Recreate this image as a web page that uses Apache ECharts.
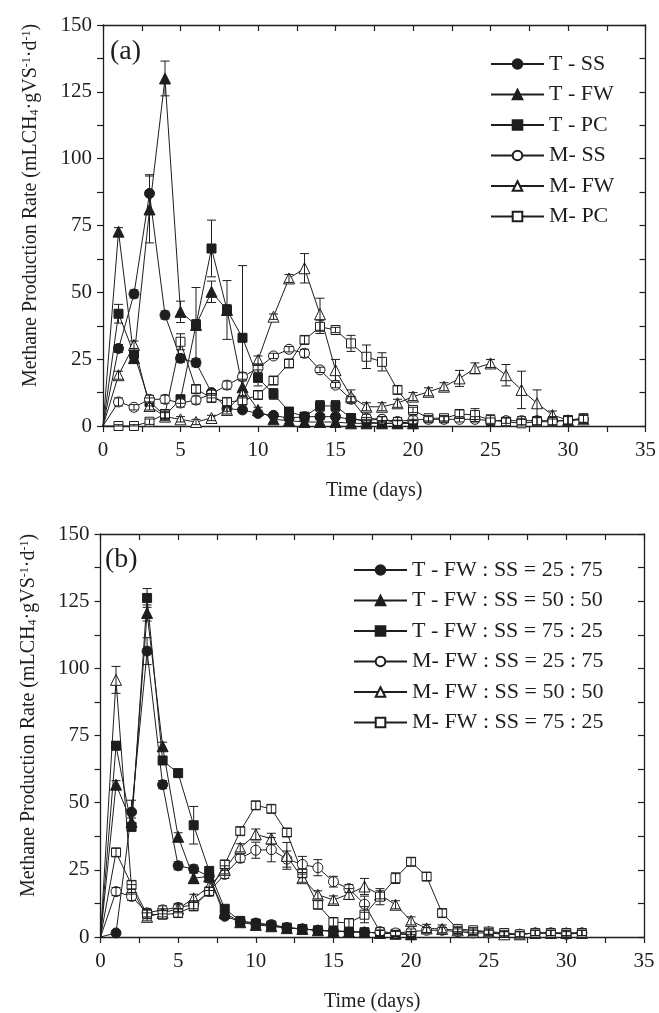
<!DOCTYPE html>
<html>
<head>
  <meta charset="utf-8">
</head>
<body style="margin: 0; background: #fff">
  <div id="container" style="width: 659px; height: 1013px"></div>
  <script src="https://cdn.jsdelivr.net/npm/echarts/dist/echarts.min.js"></script>
  <script>
    // ---- panel (a): single substrates ----
    var namesA = ['T - SS', 'T - FW', 'T - PC', 'M- SS', 'M- FW', 'M- PC'];
    var aTSS = [0, 29, 49.4, 87, 41.5, 25.3, 23.7, 12.5, 6.5, 6, 4.7, 4, 2.9, 3.5, 3.5, 3.5, 2.5, 2.2, 2.5, 1.2, 1.5];
    var aTFW = [0, 72.7, 25.4, 81, 130, 42.7, 37.8, 50.2, 43.4, 14.5, 6, 2.5, 2, 1.5, 1.5, 1.5, 1, 1, 1, 1, 1];
    var aTPC = [0, 42, 27, 9, 4, 10, 37.8, 66.4, 43.4, 33, 18, 12, 5.4, 3.5, 7.5, 7.5, 3, 1.5, 1, 1, 1];
    var aMSS = [0, 9, 7, 10, 10, 8.6, 9.7, 12, 15.3, 18.4, 21.6, 26.2, 28.7, 27.2, 21, 15.3, 10, 2.9, 2.5, 1.7, 2.3, 2.5, 2.5, 2.5, 2.5, 2, 2, 2, 2, 2, 2, 2.5];
    var aMFW = [0, 19, 30.3, 7.5, 3.5, 2.5, 1.5, 3, 6, 12, 24.7, 40.9, 55.2, 59, 41.8, 20.9, 11, 7.2, 7.2, 8.5, 11, 12.8, 14.7, 17.8, 21.6, 23.4, 19, 13.5, 8.5, 4.1, 2.2, 2.5];
    var aMPC = [0, 0, 0, 1.6, 4.5, 31.5, 13.8, 10.5, 9, 9.5, 11.6, 17, 23.4, 32.2, 37.1, 35.9, 30.9, 25.9, 24, 13.5, 6, 2.9, 2.9, 4.5, 4.1, 2.2, 1.6, 1, 1.6, 1.6, 2.2, 2.9];
    // error bars (+/-), same day index
    var eTSS = [0, 1.5, 1.5, 7, 1.5, 1.5, 1.5, 1, 1, 1, 1, 1, 1, 1, 1, 1, 1, 1, 1, 1, 1];
    var eTFW = [0, 1.5, 2, 12.5, 6.5, 4, 2, 4, 2, 3, 1, 1, 1, 1, 1, 1, 1, 1, 1, 1, 1];
    var eTPC = [0, 3.5, 2, 1.5, 1.5, 1.5, 14, 10.6, 11, 27, 3, 2, 1.5, 1.5, 2, 2, 1.5, 1, 1, 1, 1];
    var eMSS = [0, 1.5, 1, 1.5, 1.5, 1.5, 1.5, 1.5, 1.5, 1.5, 1.5, 1, 1, 1.5, 1, 1, 1, 1.5, 1, 1.5, 1.5, 1, 1, 1, 1, 1, 1, 1.5, 1.5, 1.5, 1.5, 1.5];
    var eMFW = [0, 1.5, 1.5, 1.5, 1.5, 1, 1, 1, 1.5, 1.5, 1.5, 1, 1.5, 5.5, 6, 4, 2.5, 1.5, 1.5, 1.5, 1.5, 1.5, 1.5, 3, 2, 1.5, 4, 7, 5, 1.5, 1.5, 1.5];
    var eMPC = [0, 0.5, 0.5, 1, 1.5, 3, 1.5, 1.5, 1.5, 1.5, 1.5, 1.5, 1.5, 1.5, 2.5, 1, 3, 4.4, 3.4, 1.5, 1, 1, 1, 1.5, 2.4, 2, 1.5, 1.5, 1.5, 1.5, 1.5, 1.5];

    // ---- panel (b): co-digestion ----
    var namesB = ['T - FW : SS = 25 : 75', 'T - FW : SS = 50 : 50', 'T - FW : SS = 75 : 25',
                  'M- FW : SS = 25 : 75', 'M- FW : SS = 50 : 50', 'M- FW : SS = 75 : 25'];
    var bT25 = [0, 1.5, 46.5, 106.4, 56.7, 26.5, 25.3, 22.6, 7.7, 5.8, 5.2, 4.6, 3.5, 3, 2.5, 2.2, 2, 1.8, 1.5, 1.2, 1];
    var bT50 = [0, 56.7, 42.8, 120.6, 71, 37.3, 21.9, 22.6, 9, 5.5, 4.5, 4, 3.3, 3, 2.5, 2.2, 2, 1.8, 1.5, 1.2, 1];
    var bT75 = [0, 71.2, 41, 126.2, 65.7, 61, 41.6, 24.6, 10.5, 6, 5, 4.3, 3.5, 3, 2.5, 2.2, 2, 1.8, 1.5, 1.2, 1];
    var bM25 = [0, 16.9, 15.1, 9, 10.1, 11, 12, 17, 23.3, 29.3, 32.3, 32.5, 29, 27, 25.8, 20.6, 18, 12.2, 2, 1.5, 2, 2.5, 2.5, 2, 1.5, 1.5, 1, 1, 1.5, 1.5, 1, 1.5];
    var bM50 = [0, 95.7, 18, 7.5, 9, 10.5, 14.4, 18.8, 25, 33.2, 38.2, 36.6, 30.2, 21.9, 15.7, 13.8, 16, 18.8, 15.7, 12, 6, 3.2, 3, 2.5, 2, 2, 1, 1, 1.5, 1.5, 1.5, 1.5];
    var bM75 = [0, 31.5, 19.4, 8.5, 8.3, 8.9, 11.4, 16.9, 27, 39.4, 49, 47.7, 38.9, 23.7, 12, 5.6, 5.2, 8.3, 15, 21.9, 28, 22.5, 8.9, 3, 2.5, 2, 1.5, 1, 1.5, 1.5, 1.5, 1.5];
    var fT25 = [0, 0.5, 4.4, 5, 1.5, 1.5, 1.5, 1.5, 1, 1, 1, 1, 1, 1, 1, 1, 1, 1, 1, 1, 1];
    var fT50 = [0, 1.5, 1.5, 3, 1.5, 1.5, 2, 1.5, 1, 1, 1, 1, 1, 1, 1, 1, 1, 1, 1, 1, 1];
    var fT75 = [0, 1.5, 1.5, 3.5, 1.5, 1.5, 7, 1.5, 1, 1, 1, 1, 1, 1, 1, 1, 1, 1, 1, 1, 1];
    var fM25 = [0, 1.5, 1.5, 1.5, 1.5, 1.5, 1.5, 1.5, 1.5, 1.5, 3, 4.5, 3, 3, 3, 2, 1.5, 3, 1.5, 1, 1, 1, 1, 1, 1, 1, 1, 1, 1, 1, 1, 1];
    var fM50 = [0, 5, 1.5, 1.5, 1.5, 1.5, 1.5, 1.5, 1.5, 1.5, 2, 2, 5, 1.5, 1.5, 1.5, 2, 3, 1.5, 1.5, 1.5, 1.5, 1.5, 1, 1, 1, 1, 1, 1, 1, 1, 1];
    var fM75 = [0, 1.5, 1.5, 1.5, 1.5, 1.5, 1.5, 1.5, 1.5, 1.5, 1.5, 1.5, 1.5, 1.5, 1.5, 1.5, 1.5, 3, 3, 2, 1.5, 1.5, 1.5, 1, 1, 1, 1, 1, 1, 1, 1, 1];

    var xTicks = [0, 35, 5];
    var yTicks = [0, 150, 25];

    var FONT = 'Liberation Serif';
    var INK = '#1e1e1e';
    var markers = [
      { symbol: 'circle', size: 10, fill: INK },
      { symbol: 'triangle', size: 11, fill: INK },
      { symbol: 'rect', size: 9, fill: INK },
      { symbol: 'circle', size: 10, fill: '#fff' },
      { symbol: 'triangle', size: 11, fill: '#fff' },
      { symbol: 'rect', size: 9, fill: '#fff' }
    ];

    // day 0 is the common start at the origin, drawn without a symbol
    function toPts(vals) {
      return vals.map(function (v, i) {
        return i === 0 ? { value: [i, v], symbol: 'none' } : [i, v];
      });
    }

    function lineSeries(name, vals, k, axis) {
      var m = markers[k];
      return {
        name: name, type: 'line', xAxisIndex: axis, yAxisIndex: axis,
        data: toPts(vals), symbol: m.symbol, symbolSize: m.size, showSymbol: true,
        lineStyle: { color: INK, width: 1 },
        itemStyle: { color: m.fill, borderColor: INK, borderWidth: 1 },
        z: 3, animation: false
      };
    }

    function errSeries(axis, sets) {
      var pts = [];
      sets.forEach(function (s) {
        s[0].forEach(function (v, i) {
          if (s[1][i] > 0) pts.push([i, v, s[1][i]]);
        });
      });
      return {
        type: 'custom', xAxisIndex: axis, yAxisIndex: axis, z: 4, silent: true, animation: false,
        renderItem: function (params, api) {
          var x = api.value(0), y = api.value(1), e = api.value(2);
          var top = api.coord([x, y + e]);
          var bot = api.coord([x, Math.max(0, y - e)]);
          var w = 4.5;
          var st = { stroke: INK, lineWidth: 1 };
          return {
            type: 'group', children: [
              { type: 'line', shape: { x1: top[0], y1: top[1], x2: bot[0], y2: bot[1] }, style: st },
              { type: 'line', shape: { x1: top[0] - w, y1: top[1], x2: top[0] + w, y2: top[1] }, style: st },
              { type: 'line', shape: { x1: bot[0] - w, y1: bot[1], x2: bot[0] + w, y2: bot[1] }, style: st }
            ]
          };
        },
        data: pts
      };
    }

    function xAx(grid, top) {
      return {
        type: 'value', gridIndex: grid, position: top ? 'top' : 'bottom',
        min: xTicks[0], max: xTicks[1], interval: xTicks[2],
        axisLine: { show: true, onZero: false, lineStyle: { color: INK, width: 1.3 } },
        axisTick: { show: true, inside: top, length: 6, lineStyle: { color: INK, width: 1.2 } },
        minorTick: { show: true, splitNumber: 2, length: 6, lineStyle: { color: INK, width: 1.2 } },
        axisLabel: { show: !top, margin: 14, fontFamily: FONT, fontSize: 21, color: INK },
        splitLine: { show: false },
        name: top ? '' : 'Time (days)', nameLocation: 'middle', nameGap: 55,
        nameTextStyle: { fontFamily: FONT, fontSize: 20, color: INK }
      };
    }

    function yAx(grid, right) {
      return {
        type: 'value', gridIndex: grid, position: right ? 'right' : 'left',
        min: yTicks[0], max: yTicks[1], interval: yTicks[2],
        axisLine: { show: true, onZero: false, lineStyle: { color: INK, width: 1.3 } },
        axisTick: { show: true, inside: right, length: 6, lineStyle: { color: INK, width: 1.2 } },
        minorTick: { show: true, splitNumber: 2, length: 6, lineStyle: { color: INK, width: 1.2 } },
        axisLabel: { show: !right, margin: 11, fontFamily: FONT, fontSize: 21, color: INK },
        splitLine: { show: false },
        name: right ? '' : 'Methane Production Rate (mLCH{sub|4}·gVS{sup|-1}·d{sup|-1})',
        nameLocation: 'middle', nameRotate: 90, nameGap: 62,
        nameTextStyle: {
          fontFamily: FONT, fontSize: 20, color: INK, padding: [0, 0, 0, 40],
          rich: {
            sub: { fontFamily: FONT, fontSize: 12, color: INK, verticalAlign: 'bottom', lineHeight: 12 },
            sup: { fontFamily: FONT, fontSize: 12, color: INK, verticalAlign: 'top', lineHeight: 12 }
          }
        }
      };
    }

    function legendFor(names, left, top) {
      return {
        data: names, orient: 'vertical', left: left, top: top, padding: 0,
        itemWidth: 53, itemHeight: 12, itemGap: 8.5, selectedMode: false,
        textStyle: { fontFamily: FONT, fontSize: 22, color: INK }
      };
    }

    var seriesA = [aTSS, aTFW, aTPC, aMSS, aMFW, aMPC];
    var seriesB = [bT25, bT50, bT75, bM25, bM50, bM75];
    var series = [];
    seriesA.forEach(function (v, k) { series.push(lineSeries(namesA[k], v, k, 0)); });
    seriesB.forEach(function (v, k) { series.push(lineSeries(namesB[k], v, k, 2)); });
    series.push(errSeries(0, [[aTSS, eTSS], [aTFW, eTFW], [aTPC, eTPC], [aMSS, eMSS], [aMFW, eMFW], [aMPC, eMPC]]));
    series.push(errSeries(2, [[bT25, fT25], [bT50, fT50], [bT75, fT75], [bM25, fM25], [bM50, fM50], [bM75, fM75]]));

    var chart = echarts.init(document.getElementById('container'), null, { renderer: 'canvas' });
    var option = {
      animation: false,
      backgroundColor: '#fff',
      grid: [
        { left: 103, top: 25, width: 543.5, height: 401 },
        { left: 100.5, top: 534, width: 543.5, height: 405 }
      ],
      xAxis: [xAx(0, false), xAx(0, true), xAx(1, false), xAx(1, true)],
      yAxis: [yAx(0, false), yAx(0, true), yAx(1, false), yAx(1, true)],
      legend: [legendFor(namesA, 490, 53), legendFor(namesB, 353, 559)],
      graphic: [
        { type: 'text', left: 110, top: 38, style: { text: '(a)', font: '28px "Liberation Serif"', fill: INK } },
        { type: 'text', left: 105, top: 546, style: { text: '(b)', font: '28px "Liberation Serif"', fill: INK } }
      ],
      series: series
    };
    chart.setOption(option);
    window.addEventListener('resize', chart.resize);
  </script>
</body>
</html>
